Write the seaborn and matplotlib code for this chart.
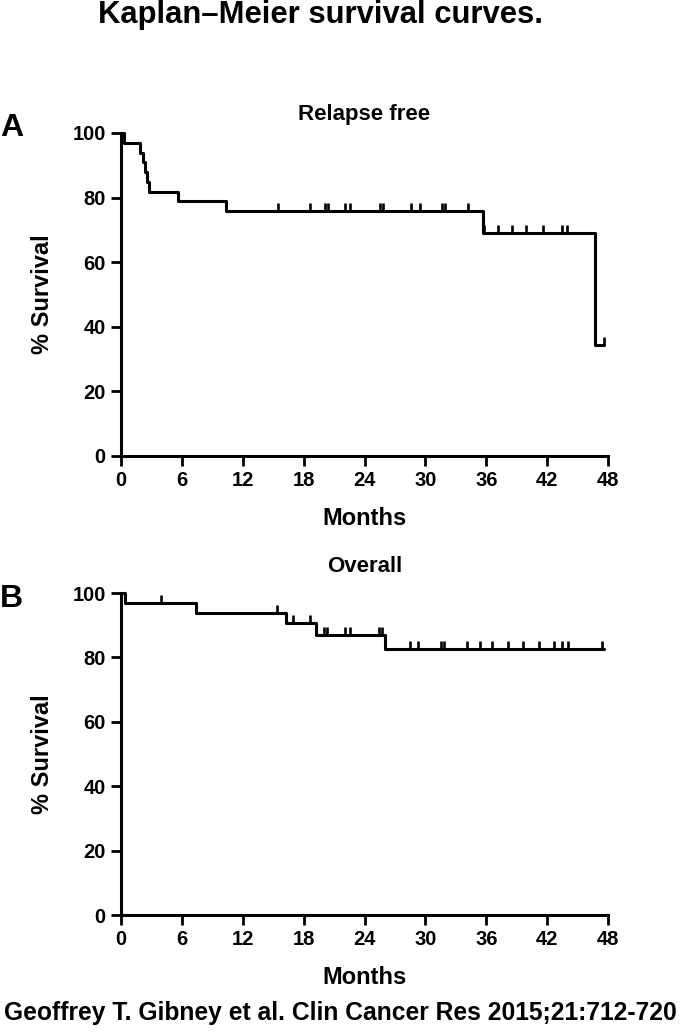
import numpy as np
import pandas as pd
import matplotlib
matplotlib.use("Agg")
import matplotlib.pyplot as plt
import seaborn as sns

# Relapse free survival (panel A): step times (months) and % survival
rfs_time = [0, 0.3, 1.9, 2.2, 2.4, 2.6, 2.8, 5.6, 10.3, 35.7, 46.7, 47.6]
rfs_surv = [100, 97.0, 93.9, 90.9, 87.9, 84.8, 81.8, 78.8, 75.8, 68.9, 34.4, 34.4]
rfs_cens_time = [15.5, 18.6, 20.1, 20.4, 22.1, 22.6, 25.5, 25.8, 28.6, 29.5, 31.6, 31.9, 34.2,
                 35.8, 37.2, 38.5, 39.9, 41.6, 43.5, 44.0, 47.6]
rfs_cens_surv = [75.8] * 13 + [68.9] * 7 + [34.4]

# Overall survival (panel B)
os_time = [0, 0.4, 7.4, 16.3, 19.2, 26.0, 47.6]
os_surv = [100, 97.0, 93.9, 90.6, 87.0, 82.6, 82.6]
os_cens_time = [3.9, 15.4, 17.0, 18.6, 20.0, 20.3, 22.1, 22.6, 25.4, 25.7,
                28.5, 29.3, 31.5, 31.8, 34.1, 35.4, 36.6, 38.1, 39.6, 41.2, 42.7, 43.5, 44.1, 47.4]
os_cens_surv = [97.0, 93.9, 90.6, 90.6, 87.0, 87.0, 87.0, 87.0, 87.0, 87.0] + [82.6] * 14

x_ticks = list(range(0, 49, 6))
y_ticks = list(range(0, 101, 20))

sns.set_style("ticks", {"axes.edgecolor": "black", "xtick.color": "black",
                        "ytick.color": "black", "text.color": "black",
                        "axes.labelcolor": "black"})
plt.rcParams['font.family'] = ['Liberation Sans', 'DejaVu Sans']
plt.rcParams['font.weight'] = 'bold'

fig = plt.figure(figsize=(6.81, 10.33), dpi=100)
ax_a = fig.add_axes([0.1777, 0.5586, 0.7151, 0.3127])
ax_b = fig.add_axes([0.1777, 0.1142, 0.7151, 0.3117])

panels = [
    (ax_a, rfs_time, rfs_surv, rfs_cens_time, rfs_cens_surv, "Relapse free", "A", 9, 1.015),
    (ax_b, os_time, os_surv, os_cens_time, os_cens_surv, "Overall", "B", 15, 0.98),
]

for ax, t, s, ct, cs, title, letter, tpad, ly in panels:
    curve = pd.DataFrame({"Months": t, "Survival": s})
    cens = pd.DataFrame({"Months": ct, "Survival": cs})
    sns.lineplot(data=curve, x="Months", y="Survival", drawstyle="steps-post",
                 estimator=None, sort=False, color="black", linewidth=2.2,
                 ax=ax, clip_on=False)
    sns.scatterplot(data=cens, x="Months", y="Survival", marker=2, s=32,
                    color="black", linewidth=1.9, ax=ax, clip_on=False, zorder=3)
    ax.set_xlim(0, 48)
    ax.set_ylim(0, 100)
    ax.set_xticks(x_ticks)
    ax.set_yticks(y_ticks)
    ax.tick_params(axis="both", direction="out", length=7, width=2, labelsize=14.5,
                   pad=4, colors="black")
    for lab in ax.get_xticklabels() + ax.get_yticklabels():
        lab.set_fontweight("bold")
    for side in ["top", "right"]:
        ax.spines[side].set_visible(False)
    for side in ["left", "bottom"]:
        ax.spines[side].set_linewidth(2.2)
        ax.spines[side].set_color("black")
    ax.set_xlabel("Months", fontsize=17, fontweight="bold", labelpad=12, color="black")
    ax.set_ylabel("% Survival", fontsize=17, fontweight="bold", labelpad=13, color="black")
    ax.set_title(title, fontsize=16, fontweight="bold", pad=tpad, color="black")
    ax.text(-0.248, ly, letter, transform=ax.transAxes, fontsize=23,
            fontweight="bold", ha="left", va="center", color="black")

fig.text(0.47, 0.985, "Kaplan\u2013Meier survival curves.", ha="center", va="center",
         fontsize=22.3, fontweight="bold", color="black")
fig.text(0.5, 0.019, "Geoffrey T. Gibney et al. Clin Cancer Res 2015;21:712-720",
         ha="center", va="center", fontsize=17.7, fontweight="bold", color="black")

fig.savefig("out.png", dpi=100)
